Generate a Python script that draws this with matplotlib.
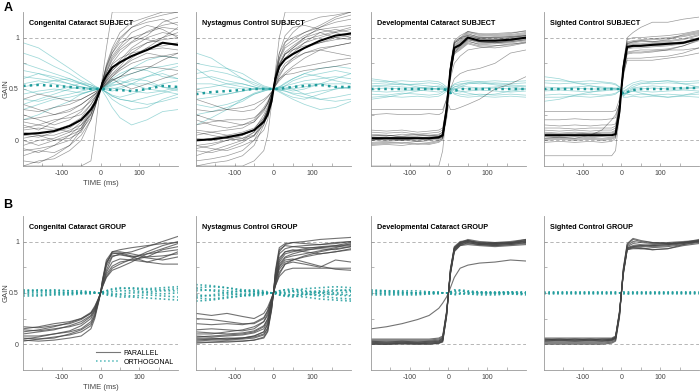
import numpy as np
import matplotlib
matplotlib.use("Agg")
import matplotlib.pyplot as plt
from matplotlib.lines import Line2D

plt.rcParams['font.family'] = ['Liberation Sans', 'DejaVu Sans']

# time samples (ms) shared by every trace
time_ms = [-200, -160, -120, -80, -50, -25, -15, -5, 0, 5, 15, 30, 50, 80, 120, 160, 200]

titles = ["Congenital Cataract", "Nystagmus Control", "Developmental Cataract", "Sighted Control"]

# ---------------------------------------------------------------------------
# Row A : single subject, individual trials + mean
# ---------------------------------------------------------------------------
cc_subj_par = [
    [-0.10, -0.08, -0.05, 0.05, 0.15, 0.30, 0.37, 0.45, 0.50, 0.56, 0.66, 0.80, 0.90, 1.00, 1.05, 1.10, 1.08],
    [0.20, 0.22, 0.25, 0.30, 0.35, 0.42, 0.45, 0.48, 0.50, 0.53, 0.57, 0.62, 0.68, 0.75, 0.80, 0.82, 0.85],
    [0.05, 0.03, 0.08, 0.12, 0.20, 0.32, 0.38, 0.46, 0.50, 0.55, 0.63, 0.75, 0.85, 0.95, 1.02, 1.15, 1.20],
    [-0.20, -0.22, -0.15, -0.05, 0.10, 0.28, 0.36, 0.45, 0.50, 0.57, 0.70, 0.85, 0.98, 1.10, 1.18, 1.22, 1.25],
    [0.30, 0.28, 0.32, 0.35, 0.40, 0.45, 0.47, 0.49, 0.50, 0.51, 0.54, 0.58, 0.62, 0.70, 0.72, 0.70, 0.68],
    [0.10, 0.12, 0.10, 0.15, 0.22, 0.35, 0.41, 0.47, 0.50, 0.53, 0.59, 0.68, 0.75, 0.82, 0.90, 0.92, 0.95],
    [-0.05, 0.00, 0.02, 0.08, 0.18, 0.30, 0.36, 0.45, 0.50, 0.57, 0.68, 0.82, 0.92, 1.05, 1.12, 1.08, 1.00],
    [0.15, 0.10, 0.18, 0.25, 0.30, 0.38, 0.42, 0.47, 0.50, 0.53, 0.58, 0.65, 0.72, 0.85, 0.95, 1.00, 1.05],
    [0.00, -0.05, 0.00, 0.05, 0.10, 0.22, 0.32, 0.44, 0.50, 0.58, 0.72, 0.88, 1.00, 1.10, 1.15, 1.18, 1.12],
    [0.25, 0.20, 0.15, 0.20, 0.28, 0.40, 0.44, 0.48, 0.50, 0.52, 0.55, 0.59, 0.62, 0.65, 0.70, 0.78, 0.85],
    [-0.15, -0.10, -0.12, -0.05, 0.05, 0.20, 0.32, 0.44, 0.50, 0.58, 0.72, 0.85, 0.95, 1.00, 0.98, 0.95, 0.92],
    [0.08, 0.05, 0.05, 0.10, 0.15, 0.25, 0.34, 0.45, 0.50, 0.55, 0.64, 0.74, 0.80, 0.85, 0.88, 0.90, 0.88],
    [0.35, 0.30, 0.25, 0.28, 0.35, 0.42, 0.45, 0.48, 0.50, 0.52, 0.55, 0.62, 0.70, 0.80, 0.90, 1.00, 1.10],
    [-0.25, -0.20, -0.18, -0.10, 0.00, 0.20, 0.31, 0.44, 0.50, 0.58, 0.74, 0.90, 1.05, 1.15, 1.20, 1.25, 1.25],
    [0.12, 0.15, 0.20, 0.22, 0.25, 0.35, 0.41, 0.47, 0.50, 0.53, 0.58, 0.64, 0.70, 0.78, 0.85, 0.82, 0.80],
    [0.02, 0.05, 0.00, 0.02, 0.08, 0.25, 0.36, 0.46, 0.50, 0.54, 0.61, 0.70, 0.78, 0.90, 1.00, 1.05, 1.02],
    [0.18, 0.15, 0.12, 0.08, 0.12, 0.30, 0.39, 0.47, 0.50, 0.54, 0.60, 0.68, 0.75, 0.88, 0.95, 0.98, 1.00],
    [-0.08, -0.12, -0.05, 0.00, 0.12, 0.26, 0.35, 0.45, 0.50, 0.56, 0.66, 0.78, 0.88, 0.96, 1.06, 1.12, 1.15],
    [-0.25, -0.25, -0.25, -0.25, -0.25, -0.20, 0.05, 0.38, 0.50, 0.62, 0.90, 1.25, 1.25, 1.25, 1.25, 1.25, 1.25],
    [0.40, 0.45, 0.42, 0.38, 0.40, 0.45, 0.47, 0.49, 0.50, 0.52, 0.56, 0.60, 0.55, 0.50, 0.55, 0.60, 0.65],
]
cc_subj_orth = [
    [0.60, 0.65, 0.62, 0.58, 0.55, 0.52, 0.51, 0.50, 0.50, 0.49, 0.47, 0.44, 0.42, 0.45, 0.50, 0.55, 0.58],
    [0.40, 0.38, 0.42, 0.45, 0.48, 0.50, 0.50, 0.50, 0.50, 0.51, 0.53, 0.56, 0.58, 0.55, 0.50, 0.48, 0.45],
    [0.75, 0.70, 0.65, 0.60, 0.55, 0.52, 0.51, 0.50, 0.50, 0.50, 0.49, 0.48, 0.50, 0.55, 0.62, 0.68, 0.72],
    [0.30, 0.35, 0.40, 0.42, 0.45, 0.48, 0.49, 0.50, 0.50, 0.51, 0.52, 0.54, 0.55, 0.60, 0.58, 0.52, 0.48],
    [0.55, 0.58, 0.55, 0.52, 0.50, 0.50, 0.50, 0.50, 0.50, 0.50, 0.51, 0.53, 0.55, 0.58, 0.62, 0.65, 0.60],
    [0.50, 0.45, 0.48, 0.52, 0.56, 0.54, 0.52, 0.51, 0.50, 0.49, 0.47, 0.43, 0.40, 0.38, 0.42, 0.46, 0.50],
    [0.85, 0.80, 0.72, 0.65, 0.58, 0.54, 0.52, 0.51, 0.50, 0.49, 0.46, 0.40, 0.35, 0.30, 0.32, 0.40, 0.45],
    [0.20, 0.25, 0.32, 0.38, 0.45, 0.48, 0.49, 0.50, 0.50, 0.51, 0.53, 0.58, 0.62, 0.70, 0.78, 0.82, 0.80],
    [0.62, 0.60, 0.58, 0.55, 0.52, 0.50, 0.50, 0.50, 0.50, 0.50, 0.50, 0.50, 0.52, 0.55, 0.55, 0.52, 0.50],
    [0.45, 0.48, 0.50, 0.48, 0.46, 0.48, 0.49, 0.50, 0.50, 0.50, 0.50, 0.51, 0.50, 0.48, 0.46, 0.48, 0.52],
    [0.68, 0.65, 0.60, 0.55, 0.52, 0.50, 0.50, 0.50, 0.50, 0.51, 0.54, 0.60, 0.65, 0.70, 0.68, 0.62, 0.60],
    [0.35, 0.40, 0.45, 0.50, 0.52, 0.51, 0.50, 0.50, 0.50, 0.49, 0.47, 0.43, 0.40, 0.38, 0.35, 0.38, 0.42],
    [0.95, 0.90, 0.80, 0.70, 0.62, 0.56, 0.53, 0.51, 0.50, 0.48, 0.42, 0.32, 0.22, 0.15, 0.20, 0.28, 0.30],
    [0.52, 0.55, 0.58, 0.60, 0.56, 0.52, 0.51, 0.50, 0.50, 0.50, 0.52, 0.55, 0.60, 0.65, 0.70, 0.72, 0.75],
]
cc_subj_par_mean = [0.06, 0.07, 0.09, 0.14, 0.20, 0.30, 0.36, 0.45, 0.50, 0.56, 0.63, 0.71, 0.76, 0.82, 0.88, 0.95, 0.93]
cc_subj_orth_mean = [0.53, 0.54, 0.53, 0.52, 0.51, 0.50, 0.50, 0.50, 0.50, 0.50, 0.50, 0.49, 0.49, 0.48, 0.50, 0.53, 0.52]

nc_subj_par = [
    [-0.05, -0.03, 0.00, 0.02, 0.08, 0.20, 0.28, 0.40, 0.50, 0.62, 0.78, 0.90, 0.95, 1.02, 1.08, 1.10, 1.12],
    [0.10, 0.08, 0.10, 0.12, 0.18, 0.30, 0.36, 0.45, 0.50, 0.56, 0.64, 0.72, 0.78, 0.85, 0.90, 0.92, 0.95],
    [-0.20, -0.18, -0.15, -0.10, 0.00, 0.18, 0.28, 0.40, 0.50, 0.62, 0.80, 0.95, 1.05, 1.15, 1.20, 1.22, 1.25],
    [0.30, 0.28, 0.30, 0.32, 0.35, 0.40, 0.43, 0.47, 0.50, 0.53, 0.58, 0.64, 0.70, 0.72, 0.75, 0.78, 0.80],
    [0.02, 0.00, 0.02, 0.05, 0.10, 0.25, 0.33, 0.44, 0.50, 0.58, 0.70, 0.80, 0.88, 0.95, 1.00, 1.05, 1.08],
    [-0.10, -0.12, -0.08, -0.02, 0.05, 0.20, 0.30, 0.42, 0.50, 0.60, 0.75, 0.86, 0.92, 1.00, 1.05, 1.00, 0.98],
    [0.20, 0.15, 0.12, 0.15, 0.20, 0.32, 0.38, 0.46, 0.50, 0.55, 0.62, 0.72, 0.80, 0.90, 0.95, 1.00, 1.02],
    [0.05, 0.08, 0.05, 0.02, 0.05, 0.15, 0.25, 0.40, 0.50, 0.64, 0.85, 0.96, 1.00, 1.05, 1.10, 1.15, 1.18],
    [-0.25, -0.22, -0.20, -0.15, -0.05, 0.15, 0.28, 0.42, 0.50, 0.60, 0.74, 0.84, 0.88, 0.92, 0.95, 0.98, 1.00],
    [0.40, 0.35, 0.30, 0.28, 0.30, 0.38, 0.42, 0.47, 0.50, 0.53, 0.60, 0.66, 0.72, 0.80, 0.88, 0.85, 0.82],
    [0.00, 0.02, 0.05, 0.08, 0.12, 0.22, 0.30, 0.43, 0.50, 0.56, 0.66, 0.75, 0.80, 0.85, 0.88, 0.92, 0.95],
    [-0.15, -0.10, -0.05, 0.00, 0.08, 0.22, 0.31, 0.43, 0.50, 0.58, 0.72, 0.84, 0.90, 1.00, 1.10, 1.18, 1.22],
    [0.15, 0.18, 0.20, 0.20, 0.22, 0.30, 0.36, 0.45, 0.50, 0.58, 0.70, 0.80, 0.85, 0.95, 1.05, 1.08, 1.05],
    [0.08, 0.05, 0.02, 0.00, 0.04, 0.18, 0.28, 0.42, 0.50, 0.60, 0.74, 0.84, 0.90, 0.98, 1.02, 1.06, 1.10],
    [-0.08, -0.05, 0.00, 0.05, 0.10, 0.20, 0.27, 0.40, 0.50, 0.62, 0.80, 0.92, 0.98, 1.05, 1.12, 1.20, 1.25],
    [0.25, 0.20, 0.18, 0.15, 0.18, 0.28, 0.36, 0.46, 0.50, 0.54, 0.60, 0.64, 0.65, 0.68, 0.70, 0.72, 0.75],
    [-0.25, -0.25, -0.25, -0.25, -0.20, -0.10, 0.05, 0.35, 0.50, 0.68, 1.00, 1.25, 1.25, 1.25, 1.25, 1.25, 1.25],
    [-0.05, -0.08, -0.10, -0.05, 0.00, 0.10, 0.20, 0.38, 0.50, 0.65, 0.85, 1.02, 1.10, 1.12, 1.08, 1.05, 1.00],
]
nc_subj_orth = [
    [0.60, 0.62, 0.58, 0.55, 0.52, 0.50, 0.50, 0.50, 0.50, 0.50, 0.51, 0.53, 0.55, 0.58, 0.60, 0.62, 0.60],
    [0.40, 0.42, 0.45, 0.48, 0.50, 0.50, 0.50, 0.50, 0.50, 0.50, 0.49, 0.48, 0.45, 0.42, 0.40, 0.42, 0.45],
    [0.75, 0.72, 0.70, 0.65, 0.58, 0.53, 0.52, 0.51, 0.50, 0.49, 0.47, 0.44, 0.40, 0.35, 0.30, 0.32, 0.38],
    [0.25, 0.28, 0.32, 0.38, 0.45, 0.48, 0.49, 0.50, 0.50, 0.51, 0.52, 0.55, 0.60, 0.65, 0.70, 0.72, 0.70],
    [0.55, 0.55, 0.52, 0.50, 0.50, 0.50, 0.50, 0.50, 0.50, 0.50, 0.50, 0.50, 0.52, 0.55, 0.55, 0.52, 0.50],
    [0.48, 0.45, 0.45, 0.48, 0.50, 0.51, 0.51, 0.50, 0.50, 0.50, 0.49, 0.48, 0.46, 0.45, 0.48, 0.50, 0.52],
    [0.65, 0.68, 0.65, 0.60, 0.56, 0.52, 0.51, 0.50, 0.50, 0.50, 0.51, 0.53, 0.58, 0.62, 0.65, 0.68, 0.65],
    [0.35, 0.32, 0.35, 0.40, 0.45, 0.48, 0.49, 0.50, 0.50, 0.51, 0.52, 0.52, 0.50, 0.45, 0.40, 0.38, 0.40],
    [0.70, 0.60, 0.55, 0.52, 0.50, 0.50, 0.50, 0.50, 0.50, 0.50, 0.50, 0.50, 0.48, 0.50, 0.55, 0.60, 0.65],
    [0.50, 0.52, 0.55, 0.55, 0.52, 0.50, 0.50, 0.50, 0.50, 0.50, 0.50, 0.50, 0.50, 0.52, 0.55, 0.55, 0.55],
    [0.85, 0.80, 0.70, 0.60, 0.54, 0.51, 0.50, 0.50, 0.50, 0.50, 0.52, 0.56, 0.60, 0.65, 0.62, 0.58, 0.55],
    [0.15, 0.22, 0.30, 0.40, 0.46, 0.49, 0.50, 0.50, 0.50, 0.50, 0.48, 0.45, 0.42, 0.40, 0.45, 0.50, 0.52],
]
nc_subj_par_mean = [0.00, 0.01, 0.03, 0.06, 0.10, 0.18, 0.25, 0.38, 0.50, 0.60, 0.72, 0.79, 0.84, 0.90, 0.97, 1.02, 1.04]
nc_subj_orth_mean = [0.45, 0.47, 0.48, 0.49, 0.50, 0.50, 0.50, 0.50, 0.50, 0.50, 0.50, 0.51, 0.52, 0.53, 0.54, 0.52, 0.52]

dc_subj_par = [
    [0.00, 0.01, 0.00, 0.02, 0.01, 0.02, 0.04, 0.28, 0.50, 0.70, 0.92, 0.96, 1.02, 0.99, 0.98, 1.00, 1.02],
    [0.05, 0.04, 0.06, 0.05, 0.04, 0.05, 0.08, 0.32, 0.50, 0.66, 0.88, 0.92, 0.98, 0.95, 0.96, 0.97, 0.99],
    [-0.03, -0.02, -0.03, -0.01, -0.02, 0.00, 0.02, 0.25, 0.50, 0.72, 0.95, 0.98, 1.04, 1.00, 1.01, 1.02, 1.04],
    [0.08, 0.07, 0.08, 0.06, 0.07, 0.08, 0.10, 0.33, 0.50, 0.65, 0.86, 0.90, 0.96, 0.94, 0.95, 0.96, 0.98],
    [0.02, 0.03, 0.02, 0.03, 0.02, 0.03, 0.05, 0.30, 0.50, 0.68, 0.90, 0.94, 1.00, 0.98, 0.97, 0.99, 1.01],
    [-0.05, -0.04, -0.05, -0.03, -0.04, -0.02, 0.01, 0.24, 0.50, 0.74, 0.97, 1.02, 1.06, 1.03, 1.04, 1.05, 1.06],
    [0.04, 0.05, 0.03, 0.04, 0.05, 0.04, 0.06, 0.30, 0.50, 0.67, 0.89, 0.93, 0.99, 0.96, 0.95, 0.97, 1.00],
    [0.01, 0.00, 0.01, 0.00, 0.02, 0.02, 0.03, 0.27, 0.50, 0.71, 0.93, 0.97, 1.03, 1.01, 1.00, 1.01, 1.03],
    [0.06, 0.05, 0.04, 0.06, 0.05, 0.06, 0.08, 0.31, 0.50, 0.66, 0.87, 0.91, 0.97, 0.93, 0.94, 0.95, 0.97],
    [-0.02, -0.01, 0.00, -0.01, 0.00, 0.01, 0.03, 0.27, 0.50, 0.70, 0.91, 0.95, 1.01, 0.99, 0.99, 1.00, 1.02],
    [0.03, 0.02, 0.04, 0.02, 0.03, 0.04, 0.06, 0.29, 0.50, 0.69, 0.94, 0.99, 1.05, 1.02, 1.02, 1.03, 1.05],
    [0.00, 0.02, 0.01, 0.03, 0.01, 0.02, 0.05, 0.31, 0.50, 0.67, 0.85, 0.89, 0.95, 0.92, 0.92, 0.93, 0.96],
    [0.10, 0.09, 0.10, 0.08, 0.09, 0.10, 0.12, 0.34, 0.50, 0.64, 0.84, 0.88, 0.94, 0.91, 0.90, 0.92, 0.95],
    [-0.04, -0.03, -0.02, -0.04, -0.03, -0.01, 0.02, 0.26, 0.50, 0.73, 0.96, 1.00, 1.06, 1.04, 1.03, 1.04, 1.07],
    [0.25, 0.26, 0.25, 0.25, 0.26, 0.25, 0.27, 0.40, 0.50, 0.60, 0.75, 0.82, 0.88, 0.90, 0.92, 0.94, 0.95],
    [0.02, 0.02, 0.03, 0.02, 0.02, 0.03, 0.05, 0.20, 0.35, 0.30, 0.30, 0.32, 0.35, 0.40, 0.50, 0.55, 0.62],
    [0.03, 0.03, 0.02, 0.02, 0.03, 0.03, 0.04, 0.25, 0.40, 0.50, 0.60, 0.65, 0.68, 0.70, 0.75, 0.85, 0.88],
    [-0.25, -0.25, -0.25, -0.25, -0.25, -0.25, -0.10, 0.30, 0.50, 0.72, 0.95, 1.00, 1.02, 1.00, 1.00, 1.01, 1.02],
    [0.30, 0.30, 0.30, 0.30, 0.30, 0.30, 0.30, 0.40, 0.50, 0.62, 0.85, 0.92, 0.98, 0.96, 0.95, 0.96, 0.98],
]
dc_subj_orth = [
    [0.55, 0.56, 0.54, 0.55, 0.56, 0.55, 0.53, 0.51, 0.50, 0.52, 0.54, 0.55, 0.56, 0.55, 0.56, 0.55, 0.56],
    [0.45, 0.44, 0.46, 0.45, 0.44, 0.45, 0.47, 0.49, 0.50, 0.48, 0.46, 0.45, 0.44, 0.45, 0.44, 0.45, 0.44],
    [0.52, 0.53, 0.52, 0.51, 0.52, 0.53, 0.52, 0.50, 0.48, 0.50, 0.52, 0.53, 0.52, 0.51, 0.52, 0.53, 0.52],
    [0.48, 0.47, 0.48, 0.49, 0.48, 0.47, 0.48, 0.50, 0.52, 0.50, 0.48, 0.47, 0.48, 0.49, 0.48, 0.47, 0.48],
    [0.58, 0.57, 0.58, 0.57, 0.58, 0.57, 0.55, 0.52, 0.48, 0.50, 0.55, 0.57, 0.58, 0.57, 0.58, 0.57, 0.58],
    [0.42, 0.43, 0.42, 0.43, 0.42, 0.43, 0.45, 0.48, 0.52, 0.50, 0.45, 0.43, 0.42, 0.43, 0.42, 0.43, 0.42],
    [0.50, 0.51, 0.50, 0.50, 0.51, 0.50, 0.50, 0.48, 0.45, 0.48, 0.50, 0.51, 0.50, 0.50, 0.51, 0.50, 0.50],
    [0.60, 0.58, 0.55, 0.52, 0.50, 0.50, 0.50, 0.50, 0.50, 0.50, 0.50, 0.52, 0.55, 0.56, 0.54, 0.52, 0.50],
    [0.40, 0.42, 0.45, 0.48, 0.50, 0.50, 0.50, 0.50, 0.50, 0.50, 0.50, 0.48, 0.46, 0.44, 0.45, 0.48, 0.50],
    [0.53, 0.54, 0.55, 0.54, 0.53, 0.52, 0.51, 0.50, 0.47, 0.49, 0.52, 0.54, 0.56, 0.57, 0.55, 0.54, 0.53],
]
dc_subj_par_mean = [0.02, 0.02, 0.02, 0.02, 0.02, 0.03, 0.05, 0.30, 0.50, 0.68, 0.90, 0.93, 1.00, 0.97, 0.97, 0.98, 1.00]
dc_subj_orth_mean = [0.50, 0.50, 0.50, 0.50, 0.50, 0.50, 0.50, 0.49, 0.48, 0.46, 0.48, 0.50, 0.50, 0.50, 0.50, 0.50, 0.50]

sc_subj_par = [
    [0.05, 0.05, 0.04, 0.05, 0.05, 0.05, 0.07, 0.30, 0.50, 0.70, 0.92, 0.93, 0.93, 0.94, 0.95, 0.96, 1.00],
    [0.00, 0.01, 0.00, 0.01, 0.00, 0.01, 0.03, 0.26, 0.50, 0.74, 0.96, 0.97, 0.98, 0.99, 1.00, 1.02, 1.05],
    [0.10, 0.09, 0.10, 0.09, 0.10, 0.10, 0.12, 0.32, 0.50, 0.66, 0.86, 0.87, 0.88, 0.88, 0.89, 0.92, 0.97],
    [0.02, 0.03, 0.02, 0.03, 0.02, 0.03, 0.05, 0.28, 0.50, 0.72, 0.94, 0.95, 0.96, 0.96, 0.97, 0.99, 1.03],
    [0.08, 0.07, 0.08, 0.07, 0.08, 0.08, 0.10, 0.31, 0.50, 0.68, 0.89, 0.90, 0.90, 0.91, 0.92, 0.94, 0.98],
    [-0.02, -0.01, -0.02, -0.01, -0.02, -0.01, 0.02, 0.25, 0.50, 0.75, 0.98, 1.00, 1.00, 1.01, 1.02, 1.04, 1.07],
    [0.12, 0.12, 0.11, 0.12, 0.12, 0.12, 0.14, 0.34, 0.50, 0.64, 0.84, 0.85, 0.85, 0.86, 0.88, 0.92, 0.98],
    [0.04, 0.04, 0.05, 0.04, 0.04, 0.05, 0.06, 0.29, 0.50, 0.71, 0.93, 0.94, 0.94, 0.95, 0.96, 0.98, 1.02],
    [0.06, 0.06, 0.06, 0.07, 0.06, 0.06, 0.08, 0.30, 0.50, 0.69, 0.90, 0.91, 0.92, 0.92, 0.93, 0.95, 0.99],
    [0.01, 0.02, 0.01, 0.02, 0.01, 0.02, 0.04, 0.27, 0.50, 0.73, 0.95, 0.96, 0.97, 0.98, 0.99, 1.01, 1.04],
    [0.15, 0.14, 0.15, 0.14, 0.15, 0.15, 0.16, 0.35, 0.50, 0.62, 0.80, 0.80, 0.80, 0.81, 0.82, 0.85, 0.90],
    [0.07, 0.06, 0.07, 0.06, 0.07, 0.07, 0.09, 0.30, 0.50, 0.70, 0.94, 0.96, 0.97, 0.96, 0.98, 1.03, 1.06],
    [0.28, 0.28, 0.28, 0.28, 0.28, 0.28, 0.29, 0.40, 0.50, 0.65, 0.90, 0.92, 0.92, 0.93, 0.94, 0.95, 0.98],
    [0.02, 0.03, 0.02, 0.05, 0.10, 0.20, 0.25, 0.35, 0.50, 0.70, 0.85, 0.86, 0.86, 0.87, 0.88, 0.88, 0.90],
    [-0.15, -0.15, -0.15, -0.15, -0.15, -0.15, -0.10, 0.25, 0.50, 0.75, 1.00, 1.05, 1.10, 1.15, 1.15, 1.18, 1.20],
    [0.20, 0.20, 0.21, 0.20, 0.20, 0.21, 0.22, 0.36, 0.50, 0.66, 0.78, 0.78, 0.78, 0.78, 0.80, 0.82, 0.85],
]
sc_subj_orth = [
    [0.56, 0.55, 0.56, 0.55, 0.56, 0.55, 0.54, 0.52, 0.50, 0.48, 0.50, 0.54, 0.56, 0.55, 0.56, 0.55, 0.56],
    [0.44, 0.45, 0.44, 0.45, 0.44, 0.45, 0.46, 0.48, 0.50, 0.46, 0.45, 0.44, 0.45, 0.44, 0.45, 0.44, 0.45],
    [0.52, 0.51, 0.52, 0.53, 0.52, 0.51, 0.51, 0.50, 0.48, 0.44, 0.47, 0.51, 0.52, 0.53, 0.52, 0.51, 0.52],
    [0.48, 0.49, 0.48, 0.47, 0.48, 0.49, 0.49, 0.50, 0.49, 0.45, 0.46, 0.48, 0.48, 0.47, 0.48, 0.49, 0.48],
    [0.58, 0.58, 0.57, 0.58, 0.57, 0.56, 0.55, 0.52, 0.50, 0.50, 0.53, 0.56, 0.58, 0.57, 0.58, 0.57, 0.58],
    [0.42, 0.42, 0.43, 0.42, 0.43, 0.44, 0.45, 0.48, 0.48, 0.42, 0.42, 0.43, 0.42, 0.43, 0.42, 0.43, 0.42],
    [0.62, 0.60, 0.56, 0.53, 0.51, 0.50, 0.50, 0.50, 0.48, 0.47, 0.49, 0.52, 0.55, 0.57, 0.58, 0.55, 0.52],
    [0.38, 0.40, 0.44, 0.47, 0.49, 0.50, 0.50, 0.50, 0.49, 0.46, 0.47, 0.48, 0.46, 0.44, 0.42, 0.44, 0.47],
    [0.50, 0.50, 0.51, 0.50, 0.50, 0.51, 0.50, 0.50, 0.49, 0.43, 0.46, 0.50, 0.50, 0.51, 0.50, 0.50, 0.51],
]
sc_subj_par_mean = [0.05, 0.05, 0.05, 0.05, 0.05, 0.05, 0.06, 0.28, 0.50, 0.70, 0.91, 0.92, 0.92, 0.93, 0.94, 0.95, 0.99]
sc_subj_orth_mean = [0.50, 0.50, 0.50, 0.50, 0.50, 0.50, 0.50, 0.50, 0.48, 0.45, 0.47, 0.49, 0.50, 0.50, 0.50, 0.51, 0.51]

# ---------------------------------------------------------------------------
# Row B : group, one mean trace per subject
# ---------------------------------------------------------------------------
cc_grp_par = [
    [0.15, 0.17, 0.20, 0.22, 0.25, 0.30, 0.35, 0.44, 0.50, 0.58, 0.72, 0.85, 0.88, 0.90, 0.95, 1.00, 1.05],
    [0.05, 0.07, 0.10, 0.13, 0.18, 0.25, 0.32, 0.43, 0.50, 0.60, 0.78, 0.90, 0.90, 0.88, 0.85, 0.86, 0.88],
    [0.10, 0.12, 0.14, 0.18, 0.22, 0.28, 0.34, 0.44, 0.50, 0.57, 0.68, 0.76, 0.80, 0.82, 0.85, 0.92, 0.95],
    [0.03, 0.05, 0.06, 0.10, 0.14, 0.20, 0.28, 0.42, 0.50, 0.62, 0.80, 0.89, 0.88, 0.85, 0.80, 0.78, 0.78],
    [0.17, 0.16, 0.18, 0.20, 0.24, 0.30, 0.36, 0.45, 0.50, 0.56, 0.65, 0.72, 0.75, 0.80, 0.88, 0.93, 0.98],
    [0.08, 0.08, 0.10, 0.12, 0.15, 0.22, 0.30, 0.43, 0.50, 0.60, 0.76, 0.86, 0.87, 0.85, 0.88, 0.90, 0.92],
    [0.12, 0.14, 0.17, 0.21, 0.25, 0.31, 0.37, 0.45, 0.50, 0.56, 0.66, 0.74, 0.78, 0.83, 0.90, 0.96, 1.00],
    [0.06, 0.05, 0.07, 0.09, 0.12, 0.18, 0.27, 0.42, 0.50, 0.62, 0.79, 0.88, 0.89, 0.86, 0.84, 0.82, 0.85],
    [0.04, 0.03, 0.04, 0.06, 0.08, 0.15, 0.25, 0.41, 0.50, 0.63, 0.82, 0.90, 0.92, 0.94, 0.96, 0.98, 0.99],
    [0.14, 0.13, 0.15, 0.17, 0.20, 0.27, 0.33, 0.44, 0.50, 0.58, 0.70, 0.80, 0.83, 0.82, 0.80, 0.84, 0.90],
]
cc_grp_orth = [
    [0.52, 0.53, 0.52, 0.52, 0.51, 0.51, 0.50, 0.50, 0.50, 0.51, 0.52, 0.53, 0.54, 0.55, 0.54, 0.55, 0.56],
    [0.49, 0.48, 0.49, 0.49, 0.50, 0.50, 0.50, 0.50, 0.50, 0.49, 0.48, 0.47, 0.46, 0.46, 0.45, 0.44, 0.43],
    [0.51, 0.52, 0.51, 0.50, 0.50, 0.50, 0.50, 0.50, 0.50, 0.50, 0.51, 0.51, 0.52, 0.52, 0.51, 0.52, 0.52],
    [0.47, 0.47, 0.48, 0.48, 0.49, 0.49, 0.50, 0.50, 0.50, 0.50, 0.49, 0.48, 0.48, 0.47, 0.48, 0.47, 0.46],
    [0.53, 0.52, 0.53, 0.52, 0.52, 0.51, 0.51, 0.50, 0.50, 0.50, 0.50, 0.49, 0.49, 0.50, 0.50, 0.49, 0.50],
    [0.50, 0.50, 0.50, 0.50, 0.50, 0.50, 0.50, 0.50, 0.50, 0.51, 0.52, 0.54, 0.55, 0.54, 0.53, 0.53, 0.54],
]

nc_grp_par = [
    [0.30, 0.28, 0.30, 0.27, 0.25, 0.30, 0.36, 0.45, 0.50, 0.57, 0.68, 0.78, 0.80, 0.78, 0.75, 0.82, 0.80],
    [0.14, 0.15, 0.14, 0.13, 0.15, 0.22, 0.30, 0.43, 0.50, 0.60, 0.75, 0.82, 0.83, 0.80, 0.76, 0.73, 0.72],
    [0.05, 0.05, 0.06, 0.06, 0.07, 0.10, 0.16, 0.36, 0.50, 0.68, 0.90, 0.97, 0.99, 1.00, 1.02, 1.03, 1.04],
    [0.03, 0.04, 0.04, 0.05, 0.06, 0.09, 0.15, 0.35, 0.50, 0.68, 0.88, 0.93, 0.95, 0.96, 0.97, 0.98, 1.00],
    [0.08, 0.07, 0.08, 0.09, 0.11, 0.15, 0.22, 0.40, 0.50, 0.63, 0.80, 0.88, 0.90, 0.92, 0.93, 0.92, 0.95],
    [0.10, 0.10, 0.12, 0.14, 0.17, 0.22, 0.28, 0.42, 0.50, 0.60, 0.73, 0.80, 0.82, 0.85, 0.88, 0.90, 0.92],
    [0.02, 0.02, 0.03, 0.03, 0.04, 0.06, 0.12, 0.33, 0.50, 0.72, 0.94, 0.98, 0.99, 0.98, 0.97, 0.99, 1.00],
    [0.06, 0.06, 0.05, 0.06, 0.08, 0.12, 0.20, 0.39, 0.50, 0.64, 0.82, 0.90, 0.92, 0.90, 0.88, 0.90, 0.93],
    [0.20, 0.19, 0.20, 0.19, 0.21, 0.26, 0.33, 0.44, 0.50, 0.57, 0.66, 0.72, 0.74, 0.74, 0.74, 0.74, 0.74],
    [0.04, 0.05, 0.05, 0.06, 0.08, 0.12, 0.19, 0.38, 0.50, 0.65, 0.84, 0.90, 0.91, 0.93, 0.95, 0.96, 0.97],
    [0.12, 0.11, 0.10, 0.11, 0.13, 0.18, 0.25, 0.41, 0.50, 0.61, 0.76, 0.84, 0.86, 0.88, 0.91, 0.94, 0.98],
    [0.01, 0.02, 0.02, 0.03, 0.04, 0.07, 0.13, 0.34, 0.50, 0.70, 0.92, 0.96, 0.95, 0.94, 0.94, 0.95, 0.96],
    [0.07, 0.08, 0.09, 0.10, 0.12, 0.17, 0.24, 0.40, 0.50, 0.62, 0.78, 0.85, 0.88, 0.91, 0.94, 0.96, 0.99],
    [0.25, 0.24, 0.22, 0.20, 0.20, 0.25, 0.32, 0.44, 0.50, 0.58, 0.70, 0.78, 0.82, 0.86, 0.90, 0.93, 0.95],
]
nc_grp_orth = [
    [0.55, 0.56, 0.55, 0.53, 0.52, 0.51, 0.50, 0.50, 0.50, 0.51, 0.52, 0.53, 0.52, 0.51, 0.52, 0.53, 0.52],
    [0.45, 0.44, 0.46, 0.47, 0.48, 0.49, 0.50, 0.50, 0.50, 0.49, 0.48, 0.47, 0.48, 0.49, 0.47, 0.45, 0.44],
    [0.58, 0.57, 0.55, 0.52, 0.51, 0.50, 0.50, 0.50, 0.50, 0.50, 0.50, 0.51, 0.52, 0.54, 0.55, 0.56, 0.55],
    [0.42, 0.43, 0.45, 0.47, 0.49, 0.50, 0.50, 0.50, 0.50, 0.50, 0.49, 0.48, 0.47, 0.46, 0.44, 0.43, 0.42],
    [0.52, 0.53, 0.52, 0.51, 0.51, 0.50, 0.50, 0.50, 0.50, 0.50, 0.51, 0.50, 0.51, 0.50, 0.51, 0.50, 0.51],
    [0.48, 0.47, 0.48, 0.49, 0.49, 0.50, 0.50, 0.50, 0.50, 0.50, 0.50, 0.49, 0.48, 0.49, 0.48, 0.49, 0.48],
    [0.54, 0.52, 0.50, 0.48, 0.47, 0.48, 0.49, 0.50, 0.50, 0.51, 0.52, 0.53, 0.54, 0.52, 0.50, 0.48, 0.47],
    [0.46, 0.48, 0.50, 0.52, 0.53, 0.52, 0.51, 0.50, 0.50, 0.49, 0.48, 0.47, 0.46, 0.48, 0.50, 0.52, 0.53],
]

dc_grp_par = [
    [0.00, 0.00, 0.00, 0.00, 0.00, 0.01, 0.03, 0.28, 0.50, 0.72, 0.94, 0.99, 1.00, 0.98, 0.98, 0.98, 1.00],
    [0.02, 0.02, 0.02, 0.02, 0.02, 0.03, 0.05, 0.30, 0.50, 0.70, 0.92, 0.98, 0.99, 0.97, 0.97, 0.98, 1.01],
    [0.04, 0.04, 0.04, 0.04, 0.04, 0.05, 0.07, 0.31, 0.50, 0.69, 0.91, 0.97, 1.01, 0.99, 0.98, 0.99, 1.02],
    [0.01, 0.01, 0.01, 0.01, 0.01, 0.02, 0.04, 0.29, 0.50, 0.71, 0.93, 0.99, 1.01, 0.98, 0.97, 0.98, 0.99],
    [0.03, 0.03, 0.03, 0.03, 0.03, 0.03, 0.06, 0.30, 0.50, 0.70, 0.92, 0.97, 0.98, 0.97, 0.96, 0.97, 0.98],
    [0.00, 0.00, 0.01, 0.00, 0.01, 0.01, 0.03, 0.27, 0.50, 0.73, 0.95, 1.00, 1.01, 0.99, 0.99, 0.99, 1.01],
    [0.02, 0.01, 0.02, 0.01, 0.02, 0.02, 0.04, 0.29, 0.50, 0.71, 0.93, 0.98, 1.00, 0.98, 0.98, 0.99, 1.00],
    [0.05, 0.05, 0.05, 0.05, 0.05, 0.06, 0.08, 0.32, 0.50, 0.68, 0.90, 0.96, 0.99, 0.97, 0.96, 0.97, 0.99],
    [0.01, 0.00, 0.01, 0.01, 0.00, 0.01, 0.02, 0.27, 0.50, 0.73, 0.94, 0.99, 1.02, 1.00, 0.99, 1.00, 1.02],
    [0.03, 0.02, 0.03, 0.02, 0.03, 0.04, 0.06, 0.30, 0.50, 0.69, 0.91, 0.96, 0.97, 0.96, 0.95, 0.96, 0.97],
    [0.15, 0.17, 0.20, 0.24, 0.28, 0.35, 0.40, 0.46, 0.50, 0.55, 0.65, 0.74, 0.77, 0.79, 0.80, 0.82, 0.81],
]
dc_grp_orth = [
    [0.52, 0.52, 0.52, 0.52, 0.51, 0.51, 0.50, 0.50, 0.50, 0.51, 0.52, 0.52, 0.51, 0.51, 0.51, 0.51, 0.51],
    [0.48, 0.48, 0.48, 0.48, 0.49, 0.49, 0.50, 0.50, 0.50, 0.49, 0.49, 0.49, 0.49, 0.49, 0.49, 0.49, 0.49],
    [0.53, 0.52, 0.51, 0.50, 0.50, 0.50, 0.50, 0.50, 0.50, 0.51, 0.53, 0.52, 0.51, 0.50, 0.50, 0.51, 0.50],
    [0.49, 0.50, 0.50, 0.50, 0.50, 0.50, 0.50, 0.50, 0.50, 0.50, 0.50, 0.50, 0.50, 0.50, 0.50, 0.50, 0.49],
    [0.51, 0.51, 0.50, 0.50, 0.51, 0.50, 0.50, 0.50, 0.50, 0.50, 0.51, 0.53, 0.52, 0.51, 0.50, 0.50, 0.50],
    [0.50, 0.49, 0.49, 0.49, 0.49, 0.50, 0.50, 0.50, 0.50, 0.49, 0.48, 0.49, 0.49, 0.48, 0.48, 0.49, 0.48],
]

sc_grp_par = [
    [0.04, 0.04, 0.04, 0.04, 0.04, 0.04, 0.06, 0.30, 0.50, 0.70, 0.93, 0.95, 0.95, 0.96, 0.97, 0.98, 1.00],
    [0.02, 0.02, 0.02, 0.02, 0.02, 0.03, 0.05, 0.28, 0.50, 0.72, 0.96, 1.00, 0.99, 0.98, 0.98, 0.99, 1.01],
    [0.06, 0.06, 0.06, 0.06, 0.06, 0.06, 0.08, 0.32, 0.50, 0.68, 0.92, 0.93, 0.93, 0.94, 0.95, 0.97, 0.99],
    [0.03, 0.03, 0.03, 0.03, 0.03, 0.04, 0.06, 0.29, 0.50, 0.71, 0.95, 0.98, 0.97, 0.96, 0.97, 0.99, 1.02],
    [0.05, 0.05, 0.05, 0.05, 0.05, 0.05, 0.07, 0.31, 0.50, 0.69, 0.93, 0.94, 0.94, 0.92, 0.93, 0.97, 1.00],
    [0.01, 0.01, 0.01, 0.01, 0.01, 0.02, 0.04, 0.27, 0.50, 0.73, 0.97, 1.02, 1.00, 0.99, 0.99, 1.00, 1.01],
    [0.04, 0.05, 0.04, 0.05, 0.04, 0.05, 0.07, 0.30, 0.50, 0.70, 0.94, 0.96, 0.96, 0.97, 0.98, 0.99, 1.00],
    [0.00, 0.00, 0.00, 0.00, 0.00, 0.01, 0.03, 0.26, 0.50, 0.74, 0.98, 1.03, 1.01, 0.99, 0.98, 0.99, 1.00],
    [0.03, 0.04, 0.03, 0.04, 0.03, 0.04, 0.06, 0.29, 0.50, 0.71, 0.94, 0.95, 0.96, 0.95, 0.96, 0.98, 1.01],
    [0.05, 0.04, 0.05, 0.04, 0.05, 0.05, 0.07, 0.30, 0.50, 0.69, 0.92, 0.94, 0.93, 0.92, 0.93, 0.96, 0.98],
]
sc_grp_orth = [
    [0.51, 0.51, 0.51, 0.51, 0.51, 0.51, 0.51, 0.50, 0.50, 0.50, 0.50, 0.50, 0.50, 0.50, 0.50, 0.50, 0.50],
    [0.49, 0.49, 0.49, 0.49, 0.49, 0.49, 0.49, 0.50, 0.50, 0.50, 0.49, 0.49, 0.49, 0.49, 0.49, 0.49, 0.49],
    [0.50, 0.50, 0.50, 0.50, 0.50, 0.50, 0.50, 0.50, 0.50, 0.51, 0.51, 0.51, 0.51, 0.51, 0.51, 0.51, 0.51],
    [0.50, 0.50, 0.50, 0.50, 0.50, 0.50, 0.50, 0.50, 0.50, 0.49, 0.49, 0.50, 0.50, 0.50, 0.50, 0.50, 0.50],
]

subj_par = [cc_subj_par, nc_subj_par, dc_subj_par, sc_subj_par]
subj_orth = [cc_subj_orth, nc_subj_orth, dc_subj_orth, sc_subj_orth]
subj_par_mean = [cc_subj_par_mean, nc_subj_par_mean, dc_subj_par_mean, sc_subj_par_mean]
subj_orth_mean = [cc_subj_orth_mean, nc_subj_orth_mean, dc_subj_orth_mean, sc_subj_orth_mean]
grp_par = [cc_grp_par, nc_grp_par, dc_grp_par, sc_grp_par]
grp_orth = [cc_grp_orth, nc_grp_orth, dc_grp_orth, sc_grp_orth]

teal_light = "#4fb8b8"
teal_dark = "#1f9c9c"


def style_axis(ax, first):
    ax.set_xlim(-200, 200)
    ax.set_ylim(-0.25, 1.25)
    for s in ["top", "right"]:
        ax.spines[s].set_visible(False)
    for s in ["left", "bottom"]:
        ax.spines[s].set_color("#999999")
        ax.spines[s].set_linewidth(0.6)
    ax.set_xticks([-150, -100, -50, 0, 50, 100, 150])
    ax.set_xticklabels(["", "-100", "", "0", "", "100", ""])
    ax.set_yticks([0, 0.25, 0.5, 0.75, 1])
    if first:
        ax.set_yticklabels(["0", "", "0.5", "", "1"])
    else:
        ax.set_yticklabels([])
    ax.tick_params(direction="in", length=2, width=0.5, colors="#999999",
                   labelcolor="#444444", labelsize=5, pad=3)
    ax.axhline(0, color="#aaaaaa", lw=0.6, ls=(0, (4, 3)), zorder=0)
    ax.axhline(1, color="#aaaaaa", lw=0.6, ls=(0, (4, 3)), zorder=0)


def axis_labels(ax):
    ax.set_ylabel("GAIN", fontsize=5.5, color="#444444")
    ax.yaxis.set_label_coords(-0.09, 0.5)
    ax.set_xlabel("TIME (ms)", fontsize=5.5, color="#444444", labelpad=2)


fig = plt.figure(figsize=(7, 3.91), dpi=100)
lefts = [0.033, 0.280, 0.530, 0.777]
w = 0.2214
h = 0.394

for i in range(4):
    # ---- row A : subject ----
    ax = fig.add_axes([lefts[i], 0.5754, w, h])
    style_axis(ax, i == 0)
    for tr in subj_orth[i]:
        ax.plot(time_ms, tr, color=teal_light, lw=0.55, alpha=0.55)
    for tr in subj_par[i]:
        ax.plot(time_ms, tr, color="black", lw=0.5, alpha=0.4)
    ax.plot(time_ms, subj_orth_mean[i], color=teal_dark, lw=1.8, ls=":")
    ax.plot(time_ms, subj_par_mean[i], color="black", lw=1.5)
    ax.text(0.04, 0.95, titles[i] + " SUBJECT", transform=ax.transAxes,
            fontsize=5.2, fontweight="bold", va="top", ha="left")
    if i == 0:
        axis_labels(ax)

    # ---- row B : group ----
    ax = fig.add_axes([lefts[i], 0.054, w, h])
    style_axis(ax, i == 0)
    for tr in grp_orth[i]:
        ax.plot(time_ms, tr, color=teal_dark, lw=1.2, ls=":", alpha=0.85)
    for tr in grp_par[i]:
        ax.plot(time_ms, tr, color="#444444", lw=0.8, alpha=0.75)
    ax.text(0.04, 0.95, titles[i] + " GROUP", transform=ax.transAxes,
            fontsize=5.2, fontweight="bold", va="top", ha="left")
    if i == 0:
        axis_labels(ax)
        handles = [Line2D([], [], color="#777777", lw=0.8),
                   Line2D([], [], color=teal_light, lw=1.1, ls=":")]
        ax.legend(handles, ["PARALLEL", "ORTHOGONAL"], loc="lower right",
                  frameon=False, fontsize=5, handlelength=3.5,
                  borderaxespad=0.2, labelspacing=0.3, handletextpad=0.5)

fig.text(0.005, 0.995, "A", fontsize=9, fontweight="bold", va="top")
fig.text(0.005, 0.49, "B", fontsize=9, fontweight="bold", va="top")

fig.savefig("out.png", dpi=100)
